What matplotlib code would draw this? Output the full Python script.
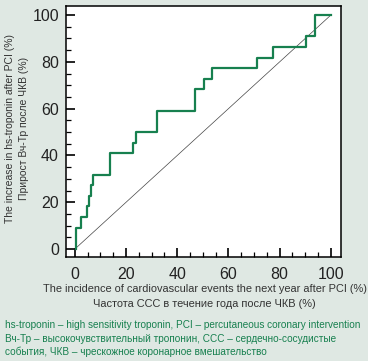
import matplotlib
matplotlib.use("Agg")
import matplotlib.pyplot as plt
from matplotlib.ticker import MultipleLocator

# step curve: vertical rise at fpr[i-1] up to tpr[i]
fpr = [0.4, 2.6, 4.6, 5.5, 6.3, 7.2, 13.7, 22.9, 23.7, 32.0, 46.9, 50.4, 53.4, 71.0, 77.2, 90.2, 93.8, 100]
tpr = [0, 9.1, 13.6, 18.2, 22.7, 27.3, 31.8, 40.9, 45.5, 50.0, 59.1, 68.2, 72.7, 77.3, 81.8, 86.4, 90.9, 100]
diag = [0, 100]

xlabel_lines = ["The incidence of cardiovascular events the next year after PCI (%)",
                "Частота ССС в течение года после ЧКВ (%)"]
ylabel_lines = ["The increase in hs-troponin after PCI (%)",
                "Прирост Вч-Тр после ЧКВ (%)"]
notes = ["hs-troponin – high sensitivity troponin, PCI – percutaneous coronary intervention",
         "Вч-Тр – высокочувствительный тропонин, ССС – сердечно-сосудистые",
         "события, ЧКВ – чрескожное коронарное вмешательство"]

BG = "#dfe8e3"
GREEN = "#17804f"
FONT = "Liberation Sans"

fig = plt.figure(figsize=(3.68, 3.61), dpi=100, facecolor=BG)
ax = fig.add_axes([0.179, 0.288, 0.748, 0.695])
ax.set_facecolor("white")

ax.plot(diag, diag, color="#444444", lw=0.5)
ax.step(fpr, tpr, where="pre", color=GREEN, lw=1.6)

ax.set_xlim(-3.5, 104)
ax.set_ylim(-3.4, 103.8)
ax.xaxis.set_major_locator(MultipleLocator(20))
ax.yaxis.set_major_locator(MultipleLocator(20))
ax.xaxis.set_minor_locator(MultipleLocator(5))
ax.yaxis.set_minor_locator(MultipleLocator(5))
ax.tick_params(which="both", direction="in", colors="black")
ax.tick_params(which="major", length=6.5, width=1.2, labelsize=11.5, pad=7)
ax.tick_params(which="minor", length=3.8, width=0.9)
ax.tick_params(axis="y", which="major", pad=5)
for lab in ax.get_xticklabels() + ax.get_yticklabels():
    lab.set_fontfamily(FONT)
    lab.set_color("#222222")
for s in ax.spines.values():
    s.set_linewidth(1.1)

fig.text(0.556, 1 - 289 / 361, xlabel_lines[0], ha="center", va="center",
         fontsize=7.9, family=FONT, color="#333333")
fig.text(0.556, 1 - 304 / 361, xlabel_lines[1], ha="center", va="center",
         fontsize=7.9, family=FONT, color="#333333")
fig.text(10 / 368, 1 - 129 / 361, ylabel_lines[0], ha="center", va="center",
         rotation=90, fontsize=7.5, family=FONT, color="#333333")
fig.text(24 / 368, 1 - 128 / 361, ylabel_lines[1], ha="center", va="center",
         rotation=90, fontsize=7.5, family=FONT, color="#333333")

for i, line in enumerate(notes):
    fig.text(5 / 368, 1 - (325 + 13.5 * i) / 361, line, ha="left", va="center",
             fontsize=7.2, family=FONT, color=GREEN)

fig.savefig("out.png", dpi=100, facecolor=BG)
